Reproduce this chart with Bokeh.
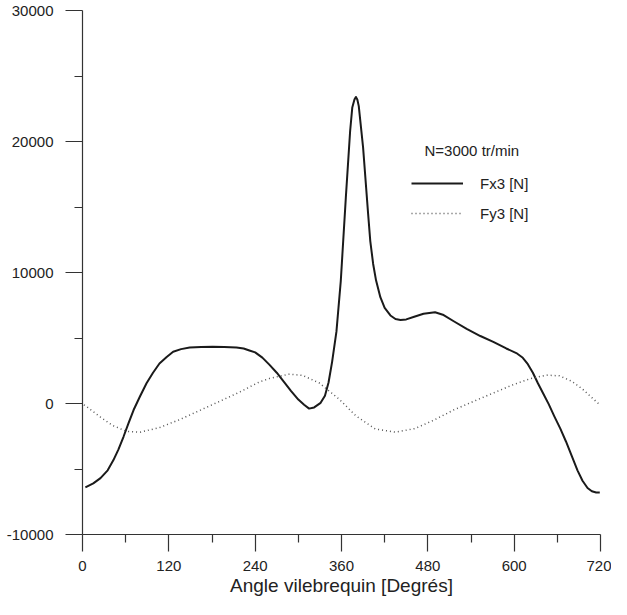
from bokeh.plotting import figure
from bokeh.models import FixedTicker, Legend, LegendItem, Label, Range1d
from bokeh.embed import file_html
from bokeh.resources import INLINE

# Fx3 [N] (solid)
fx_angle = [4, 15, 25, 35, 43, 50, 57, 64, 71, 80, 89, 98, 107, 117, 126, 137, 149, 165,
            181, 197, 214, 224, 232, 240, 250, 260, 270, 280, 290, 300, 308, 315, 322, 331,
            337, 342, 347, 353, 359, 366, 372, 375, 378, 380, 382, 384, 390, 397, 400, 404,
            408, 414, 420, 428, 435, 442, 450, 460, 474, 490, 502, 516, 534, 553, 571, 589,
            603, 612, 619, 626, 633, 640, 648, 656, 664, 672, 680, 688, 695, 702, 708, 714,
            719]
fx3 = [-6400, -6100, -5700, -5100, -4320, -3500, -2540, -1500, -500, 550, 1550, 2350, 3050,
       3550, 3950, 4150, 4270, 4320, 4330, 4320, 4280, 4200, 4050, 3900, 3500, 2950, 2350,
       1650, 950, 300, -100, -390, -300, 50, 600, 1600, 3200, 5500, 9350, 15700, 20800,
       22600, 23200, 23400, 23200, 22700, 19550, 14470, 12400, 10650, 9400, 8120, 7300,
       6720, 6450, 6380, 6420, 6600, 6850, 6960, 6750, 6280, 5700, 5150, 4700, 4200, 3850,
       3490, 3000, 2350, 1550, 800, -50, -1000, -1900, -2900, -4000, -5100, -5900, -6450,
       -6700, -6800, -6800]

# Fy3 [N] (dotted)
fy_angle = [2, 6, 24, 42, 61, 80, 107, 135, 163, 191, 218, 246, 260, 287, 306, 329, 357, 380,
            407, 435, 462, 488, 516, 543, 571, 599, 622, 645, 663, 680, 695, 708, 719]
fy3 = [-100, -250, -1000, -1680, -2120, -2190, -1840, -1230, -530, 175, 860, 1650, 1915, 2240,
       2145, 1570, 320, -945, -1945, -2190, -1915, -1280, -490, 150, 800, 1445, 1890, 2170,
       2110, 1700, 1100, 450, -100]

x_ticks = [0, 120, 240, 360, 480, 600, 720]
x_minor = [60, 180, 300, 420, 540, 660]
y_ticks = [-10000, 0, 10000, 20000, 30000]
y_tick_labels = ["-10000", "0", "10000", "20000", "30000"]
y_minor = [-5000, 5000, 15000, 25000]

FONT = "Liberation Sans"
INK = "#222222"

p = figure(width=611, height=599, output_backend="svg", toolbar_location=None,
           x_range=Range1d(0, 720), y_range=Range1d(-10000, 30000),
           min_border_left=82, min_border_right=11, min_border_top=10, min_border_bottom=65)
p.outline_line_color = None
p.grid.visible = False
p.background_fill_color = "white"

l1 = p.line(fx_angle, fx3, line_color="#1a1a1a", line_width=2, line_join="round")
l2 = p.line(fy_angle, fy3, line_color="#555555", line_width=1.5, line_dash="1 3")

for ax in (p.xaxis[0], p.yaxis[0]):
    ax.axis_line_color = "#333333"
    ax.axis_line_width = 1.2
    ax.major_tick_line_color = "#333333"
    ax.minor_tick_line_color = "#333333"
    ax.major_tick_line_width = 1.2
    ax.minor_tick_line_width = 1.2
    ax.major_tick_in = 0
    ax.major_tick_out = 17
    ax.minor_tick_in = 0
    ax.minor_tick_out = 8
    ax.major_label_text_font = FONT
    ax.major_label_text_font_size = "15px"
    ax.major_label_text_color = INK

p.xaxis.ticker = FixedTicker(ticks=x_ticks, minor_ticks=x_minor)
p.yaxis.ticker = FixedTicker(ticks=y_ticks, minor_ticks=y_minor)
p.yaxis.major_label_overrides = {t: s for t, s in zip(y_ticks, y_tick_labels)}
p.xaxis.major_label_standoff = 9
p.yaxis.major_label_standoff = 12
p.xaxis.axis_label = "Angle vilebrequin [Degrés]"
p.xaxis.axis_label_text_font = FONT
p.xaxis.axis_label_text_font_size = "19px"
p.xaxis.axis_label_text_font_style = "normal"
p.xaxis.axis_label_text_color = INK
p.xaxis.axis_label_standoff = 1

legend = Legend(items=[LegendItem(label="Fx3 [N]", renderers=[l1]),
                       LegendItem(label="Fy3 [N]", renderers=[l2])],
                location=(329, 311), glyph_width=52, glyph_height=20, label_height=20,
                label_standoff=17, spacing=10, padding=0, margin=0,
                border_line_color=None, background_fill_alpha=0,
                label_text_font=FONT, label_text_font_size="15px", label_text_color=INK)
p.add_layout(legend)

p.add_layout(Label(x=342, y=384, x_units="screen", y_units="screen", text="N=3000 tr/min",
                   text_font=FONT, text_font_size="15px", text_color=INK,
                   text_baseline="middle"))

open("out.html", "w").write(file_html(p, INLINE))
